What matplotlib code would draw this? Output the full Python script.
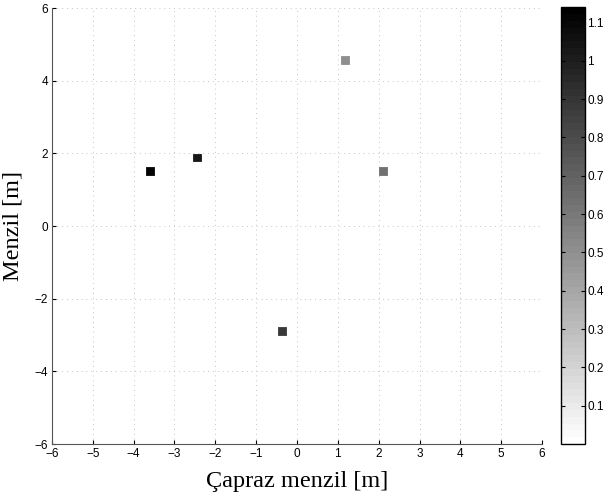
import numpy as np
import matplotlib
matplotlib.use("Agg")
import matplotlib.pyplot as plt

# target positions [m] and their amplitudes
cross_range = [-3.6, -2.45, -0.36, 1.18, 2.11]
down_range = [1.51, 1.89, -2.89, 4.57, 1.51]
amplitude = [1.12, 1.03, 0.88, 0.5, 0.64]

x_ticks = np.arange(-6, 7, 1)
y_ticks = np.arange(-6, 7, 2)
cbar_ticks = [0.1, 0.2, 0.3, 0.4, 0.5, 0.6, 0.7, 0.8, 0.9, 1, 1.1]
cbar_labels = ['0.1', '0.2', '0.3', '0.4', '0.5', '0.6', '0.7', '0.8', '0.9', '1', '1.1']

plt.rcParams['font.family'] = ['Liberation Sans', 'DejaVu Sans']

fig = plt.figure(figsize=(6.06, 4.97), dpi=100)
ax = fig.add_axes([0.0858, 0.1066, 0.8086, 0.877])
cax = fig.add_axes([0.925, 0.1066, 0.041, 0.879])

cmap = plt.get_cmap('gray_r', 64)
sc = ax.scatter(cross_range, down_range, c=amplitude, cmap=cmap, vmin=0, vmax=1.14,
                marker='s', s=30, linewidths=0.6, edgecolors='face', zorder=3)

ax.set_xlim(-6, 6)
ax.set_ylim(-6, 6)
ax.set_xticks(x_ticks)
ax.set_yticks(y_ticks)
ax.grid(True, which='major', linestyle=(0, (1, 4)), color='#c4c4c4', linewidth=0.7)
ax.set_axisbelow(True)
ax.tick_params(direction='in', labelsize=8.5, length=3, pad=3)
for side in ['top', 'right']:
    ax.spines[side].set_visible(False)
for side in ['left', 'bottom']:
    ax.spines[side].set_color('#555555')
    ax.spines[side].set_linewidth(0.8)

serif = ['Liberation Serif', 'DejaVu Serif']
ax.set_xlabel('Çapraz menzil [m]', family=serif, fontsize=17.5, labelpad=8)
ax.set_ylabel('Menzil [m]', family=serif, fontsize=17.5, labelpad=8)

cb = fig.colorbar(sc, cax=cax, ticks=cbar_ticks)
cb.ax.set_yticklabels(cbar_labels)
cb.ax.tick_params(labelsize=8.5, direction='in', length=3, pad=1.5, left=True, right=True)
cb.outline.set_linewidth(1.0)

fig.savefig('out.png', dpi=100)
